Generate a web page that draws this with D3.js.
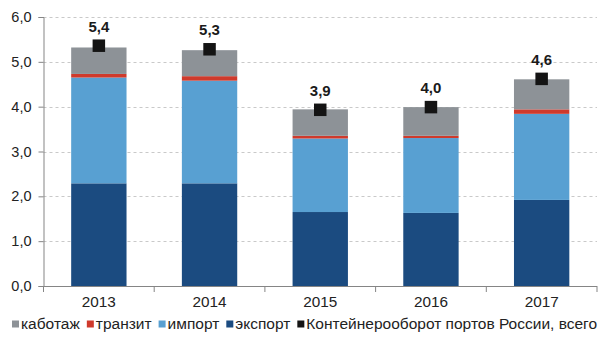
<!DOCTYPE html>
<html>
<head>
<meta charset="utf-8">
<script src="https://cdn.jsdelivr.net/npm/d3@7"></script>
<style>
  html, body { margin: 0; padding: 0; background: #fff; }
  svg { display: block; font-family: Arial, "Liberation Sans", sans-serif; }
</style>
</head>
<body>
<svg id="chart" width="603" height="340"></svg>
<script>
// Container throughput of Russian ports, million TEU
const years = ["2013", "2014", "2015", "2016", "2017"];
const exportVals  = [2.29, 2.29, 1.65, 1.63, 1.92];
const importVals  = [2.36, 2.29, 1.64, 1.67, 1.92];
const transitVals = [0.08, 0.10, 0.06, 0.05, 0.10];
const cabotageVals = [0.59, 0.58, 0.59, 0.64, 0.67];
const totalVals   = [5.36, 5.28, 3.93, 3.99, 4.62];
const yTicks = [0, 1, 2, 3, 4, 5, 6];

const seriesNames = ["каботаж", "транзит", "импорт", "экспорт"];
const totalName = "Контейнерооборот портов России, всего";
const colors = {
  "экспорт": "#1b4b80",
  "импорт": "#58a0d2",
  "транзит": "#cf3a2c",
  "каботаж": "#8d9297"
};

const rows = years.map((yr, i) => ({
  year: yr,
  "экспорт": exportVals[i],
  "импорт": importVals[i],
  "транзит": transitVals[i],
  "каботаж": cabotageVals[i],
  total: totalVals[i]
}));

const svg = d3.select("#chart");
const plotLeft = 43.5, plotRight = 597, plotTop = 17, plotBottom = 286;

const x = d3.scaleBand().domain(years).range([plotLeft, plotRight])
  .paddingInner(0.5).paddingOuter(0.25);
const y = d3.scaleLinear().domain([0, 6]).range([plotBottom, plotTop]);
const fmt = v => v.toFixed(1).replace(".", ",");

// dashed gridlines
svg.append("g").selectAll("line").data(yTicks.filter(d => d > 0)).join("line")
  .attr("x1", plotLeft).attr("x2", plotRight)
  .attr("y1", d => Math.round(y(d)) + 0.5).attr("y2", d => Math.round(y(d)) + 0.5)
  .attr("stroke", "#c9c9c9").attr("stroke-width", 1)
  .attr("stroke-dasharray", "3,3");

// stacked bars, bottom to top
const stackOrder = ["экспорт", "импорт", "транзит", "каботаж"];
const stacked = d3.stack().keys(stackOrder)(rows);
svg.append("g").selectAll("g").data(stacked).join("g")
  .attr("fill", d => colors[d.key])
  .selectAll("rect").data(d => d).join("rect")
  .attr("x", d => x(d.data.year))
  .attr("width", x.bandwidth())
  .attr("y", d => y(d[1]))
  .attr("height", d => y(d[0]) - y(d[1]));

// y axis
const yAxis = svg.append("g")
  .attr("transform", `translate(${plotLeft},0)`)
  .call(d3.axisLeft(y).tickValues(yTicks).tickSize(5).tickPadding(7).tickFormat(fmt));
yAxis.select(".domain").attr("stroke", "#858585");
yAxis.selectAll(".tick line").attr("stroke", "#858585");
yAxis.selectAll("text").attr("font-size", 14.5).attr("fill", "#222")
  .attr("font-family", "Arial, 'Liberation Sans', sans-serif");

// x axis: baseline with ticks between categories
const xAxis = svg.append("g").attr("transform", `translate(0,${plotBottom})`)
  .call(d3.axisBottom(x).tickSize(0).tickPadding(10));
xAxis.select(".domain").remove();
xAxis.append("line").attr("x1", plotLeft).attr("x2", plotRight).attr("y1", 0.5).attr("y2", 0.5)
  .attr("stroke", "#858585");
const bounds = d3.range(years.length + 1).map(i => plotLeft + i * x.step());
xAxis.selectAll(".bound").data(bounds).join("line").attr("class", "bound")
  .attr("x1", d => d).attr("x2", d => d).attr("y1", 0).attr("y2", 6)
  .attr("stroke", "#858585");
xAxis.selectAll("text").attr("font-size", 15.3).attr("fill", "#222")
  .attr("font-family", "Arial, 'Liberation Sans', sans-serif");

// total markers and labels
const ms = 12.5;
svg.append("g").selectAll("rect").data(rows).join("rect")
  .attr("x", d => x(d.year) + x.bandwidth() / 2 - ms / 2)
  .attr("y", d => y(d.total) - ms / 2)
  .attr("width", ms).attr("height", ms)
  .attr("fill", "#141414");
svg.append("g").selectAll("text").data(rows).join("text")
  .attr("x", d => x(d.year) + x.bandwidth() / 2)
  .attr("y", d => y(d.total) - 14)
  .attr("text-anchor", "middle")
  .attr("font-size", 15).attr("font-weight", "bold").attr("fill", "#1a1a1a")
  .text(d => fmt(d.total));

// legend
const legendItems = seriesNames.map(n => ({ name: n, color: colors[n] }))
  .concat([{ name: totalName, color: "#141414" }]);
const legend = svg.append("g").attr("transform", "translate(0,329)");
let cx = 12;
legendItems.forEach(item => {
  const g = legend.append("g");
  g.append("rect").attr("x", cx).attr("y", -8.5).attr("width", 7).attr("height", 7)
    .attr("fill", item.color);
  const t = g.append("text").attr("x", cx + 9).attr("y", 0)
    .attr("font-size", 15.5).attr("fill", "#222").text(item.name);
  cx += 9 + t.node().getComputedTextLength() + 7;
});
</script>
</body>
</html>
